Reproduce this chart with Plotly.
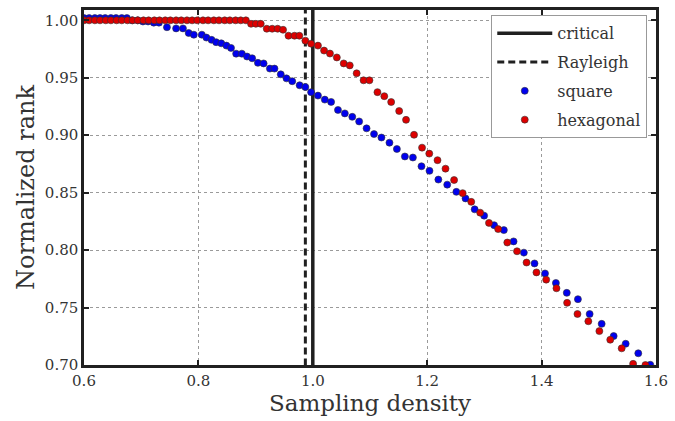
import plotly.graph_objects as go

# ---- data ----
square_x = [0.600, 0.609, 0.619, 0.628, 0.637, 0.647, 0.656, 0.666, 0.675, 0.684,
            0.694, 0.703, 0.712, 0.722, 0.731, 0.745, 0.761, 0.773, 0.783, 0.792,
            0.806, 0.814, 0.823, 0.831, 0.840, 0.849, 0.857, 0.866, 0.876, 0.885,
            0.894, 0.904, 0.914, 0.925, 0.933, 0.944, 0.954, 0.964, 0.977, 0.987,
            0.997, 1.009, 1.021, 1.032, 1.044, 1.056, 1.069, 1.081, 1.094, 1.107,
            1.120, 1.134, 1.147, 1.161, 1.175, 1.190, 1.204, 1.2195, 1.235, 1.251,
            1.267, 1.283, 1.2995, 1.317, 1.334, 1.351, 1.369, 1.3876, 1.406, 1.425,
            1.444, 1.4635, 1.484, 1.505, 1.526, 1.547, 1.569, 1.590]
square_y = [1.002, 1.002, 1.002, 1.002, 1.002, 1.002, 1.002, 1.002, 1.002, 1.000,
            1.000, 0.999, 0.999, 0.998, 0.998, 0.994, 0.993, 0.993, 0.989, 0.9875,
            0.9875, 0.985, 0.983, 0.981, 0.980, 0.978, 0.976, 0.971, 0.971, 0.9685,
            0.967, 0.963, 0.9625, 0.958, 0.958, 0.953, 0.9495, 0.947, 0.9435, 0.942,
            0.9375, 0.9345, 0.931, 0.929, 0.922, 0.919, 0.916, 0.912, 0.906, 0.901,
            0.898, 0.8935, 0.888, 0.8815, 0.8806, 0.873, 0.869, 0.8614, 0.857, 0.8507,
            0.845, 0.8355, 0.830, 0.8217, 0.8174, 0.8076, 0.7978, 0.7884, 0.7797, 0.7714,
            0.7628, 0.7573, 0.7444, 0.7358, 0.7252, 0.7185, 0.7102, 0.7002]

hex_x = [0.600, 0.609, 0.619, 0.628, 0.638, 0.647, 0.657, 0.666, 0.676, 0.685,
         0.694, 0.704, 0.713, 0.723, 0.732, 0.742, 0.751, 0.761, 0.770, 0.780,
         0.789, 0.798, 0.808, 0.817, 0.827, 0.836, 0.846, 0.855, 0.865, 0.874,
         0.883, 0.892, 0.9005, 0.909, 0.9195, 0.929, 0.9385, 0.948, 0.9575, 0.968,
         0.9765, 0.987, 0.997, 1.009, 1.0197, 1.030, 1.042, 1.054, 1.0646, 1.0767,
         1.0888, 1.099, 1.113, 1.125, 1.137, 1.151, 1.163, 1.177, 1.191, 1.2036,
         1.218, 1.232, 1.247, 1.262, 1.277, 1.2926, 1.308, 1.324, 1.340, 1.357,
         1.3737, 1.391, 1.408, 1.426, 1.4446, 1.4627, 1.4817, 1.501, 1.520, 1.540,
         1.560, 1.5815]
hex_y = [1.000] * 31 + [
         0.997, 0.997, 0.997, 0.9927, 0.9927, 0.9927, 0.9918, 0.9866, 0.9866,
         0.9866, 0.9823, 0.9797, 0.978, 0.9737, 0.9711, 0.9677, 0.9625, 0.9608, 0.9539,
         0.9478, 0.9478, 0.9375, 0.934, 0.9289, 0.9211, 0.9134, 0.9004, 0.8892, 0.884,
         0.8783, 0.8709, 0.861, 0.8496, 0.842, 0.8326, 0.8237, 0.8183, 0.8066, 0.799,
         0.7892, 0.7806, 0.7743, 0.7668, 0.7541, 0.7444, 0.7381, 0.7295, 0.7220, 0.7145,
         0.701, 0.700]

critical_x = 1.0
rayleigh_x = 0.987
y_span = [0.69, 1.02]

x_ticks = [0.6, 0.8, 1.0, 1.2, 1.4, 1.6]
y_ticks = [0.70, 0.75, 0.80, 0.85, 0.90, 0.95, 1.00]

FONT = "DejaVu Serif"
TXT = "#333333"

fig = go.Figure()
fig.add_trace(go.Scatter(x=[critical_x, critical_x], y=y_span, mode="lines",
                         name="critical", legendgroup="a",
                         line=dict(color="#202020", width=3.5)))
fig.add_trace(go.Scatter(x=[rayleigh_x, rayleigh_x], y=y_span, mode="lines",
                         name="Rayleigh", legendgroup="b",
                         line=dict(color="#202020", width=3, dash="7px,4px")))
fig.add_trace(go.Scatter(x=square_x, y=square_y, mode="markers", name="square",
                         legendgroup="c",
                         marker=dict(color="#0000ee", size=7,
                                     line=dict(color="#333333", width=0.6))))
fig.add_trace(go.Scatter(x=hex_x, y=hex_y, mode="markers", name="hexagonal",
                         legendgroup="d",
                         marker=dict(color="#dd0000", size=7,
                                     line=dict(color="#333333", width=0.6))))

axis_common = dict(showline=True, linecolor="#202020", linewidth=2.5, mirror="allticks",
                   ticks="inside", ticklen=5, tickwidth=1.5, tickcolor="#202020",
                   showgrid=True, gridcolor="#9a9a9a", griddash="dot", gridwidth=1,
                   zeroline=False, tickfont=dict(family=FONT, size=15, color=TXT))

fig.update_xaxes(range=[0.6, 1.6], tickvals=x_ticks,
                 ticktext=[f"{v:.1f}" for v in x_ticks],
                 title=dict(text="Sampling density", font=dict(family=FONT, size=23, color=TXT),
                            standoff=4),
                 **axis_common)
fig.update_yaxes(range=[0.70, 1.009], tickvals=y_ticks,
                 ticktext=[f"{v:.2f}" for v in y_ticks],
                 title=dict(text="Normalized rank", font=dict(family=FONT, size=24, color=TXT),
                            standoff=4),
                 **axis_common)

fig.update_layout(
    width=675, height=421,
    margin=dict(l=84, r=12, t=7, b=56),
    plot_bgcolor="white", paper_bgcolor="white",
    font=dict(family=FONT, color=TXT),
    legend=dict(x=0.712, y=0.985, xanchor="left", yanchor="top",
                bgcolor="white", bordercolor="#999999", borderwidth=1,
                font=dict(family=FONT, size=16, color=TXT),
                tracegroupgap=5, itemwidth=55),
)

fig.write_html("out.html")
